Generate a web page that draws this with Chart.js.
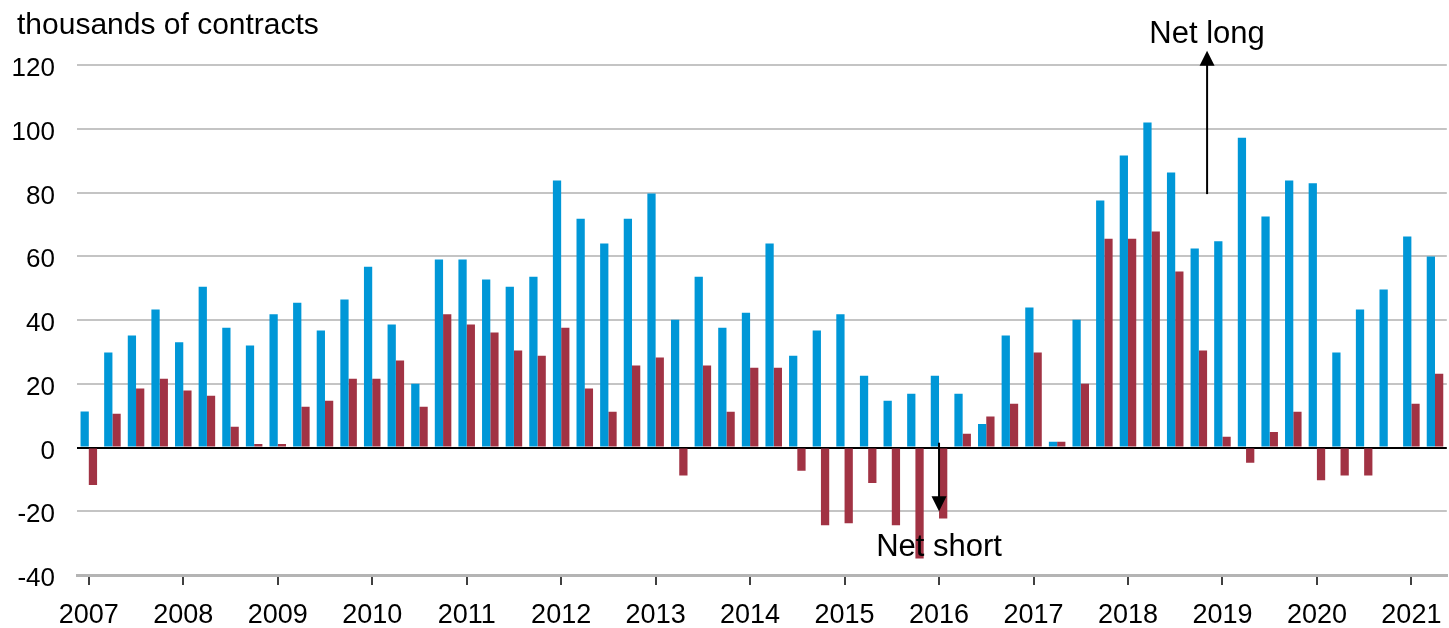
<!DOCTYPE html>
<html>
<head>
<meta charset="utf-8">
<script src="https://cdn.jsdelivr.net/npm/chart.js@4.4.1/dist/chart.umd.min.js"></script>
<style>
  body { margin: 0; background: #ffffff; }
  #wrap { position: relative; width: 1449px; height: 628px; }
</style>
</head>
<body>
<div id="wrap"><canvas id="positions-chart"></canvas></div>
<script>
// quarters 2007 Q1 - 2021 Q2
const quarterLabels = [];
for (let y = 2007; y <= 2021; y++) {
    for (let q = 1; q <= 4; q++) {
        if (y === 2021 && q > 2) break;
        quarterLabels.push(q === 1 ? String(y) : '');
    }
}

// thousands of contracts
const blueValues = [11.3, 29.8, 35.1, 43.3, 33.0, 50.4, 37.6, 32.0, 41.8, 45.4,
    36.7, 46.4, 56.7, 38.6, 20.0, 59.0, 59.0, 52.7, 50.4, 53.6,
    83.8, 71.8, 64.0, 71.8, 79.7, 40.1, 53.6, 37.6, 42.3, 64.0,
    28.8, 36.7, 41.8, 22.5, 14.7, 16.9, 22.5, 16.9, 7.4, 35.1,
    43.9, 1.8, 40.1, 77.5, 91.6, 102.0, 86.3, 62.4, 64.7, 97.2,
    72.5, 83.8, 82.9, 29.8, 43.3, 49.6, 66.2, 59.9];
const redValues = [-11.8, 10.6, 18.5, 21.6, 17.9, 16.2, 6.5, 1.1, 1.1, 12.8,
    14.7, 21.6, 21.6, 27.3, 12.8, 41.8, 38.6, 36.1, 30.4, 28.8,
    37.6, 18.5, 11.2, 25.7, 28.2, -8.8, 25.7, 11.2, 25.0, 25.0,
    -7.3, -24.4, -23.8, -11.1, -24.4, -34.8, -22.3, 4.3, 9.7, 13.7,
    29.8, 1.8, 20.0, 65.5, 65.5, 67.8, 55.2, 30.4, 3.4, -4.8,
    4.9, 11.2, -10.3, -8.8, -8.8, 0, 13.7, 23.1];

const yMin = -40;
const yMax = 120;
const yStep = 20;

// annotations: [label, x index, arrow from, arrow to, text baseline y]
const netLong = ['Net long', 47.35, 79.5, 124.5, 43];
const netShort = ['Net short', 36.0, 1.5, -20, 556];

const FONT = "'Liberation Sans', Arial, sans-serif";

const annotationPlugin = {
    id: 'annotations',
    afterDraw(chart) {
        const ctx = chart.ctx;
        const x = chart.scales.x;
        const y = chart.scales.y;
        ctx.save();

        // y axis unit label
        ctx.fillStyle = '#000000';
        ctx.font = '30px ' + FONT;
        ctx.textAlign = 'left';
        ctx.textBaseline = 'alphabetic';
        ctx.fillText('thousands of contracts', 17, 34);

        const arrows = [netLong, netShort];
        for (let i = 0; i < arrows.length; i++) {
            const a = arrows[i];
            const px = x.getPixelForValue(a[1]);
            const y0 = y.getPixelForValue(a[2]);
            const y1 = y.getPixelForValue(a[3]);
            const dir = y1 < y0 ? 1 : -1;
            ctx.strokeStyle = '#000000';
            ctx.lineWidth = 2;
            ctx.beginPath();
            ctx.moveTo(px, y0);
            ctx.lineTo(px, y1 + dir * 14);
            ctx.stroke();
            ctx.fillStyle = '#000000';
            ctx.beginPath();
            ctx.moveTo(px, y1);
            ctx.lineTo(px - 7.5, y1 + dir * 15);
            ctx.lineTo(px + 7.5, y1 + dir * 15);
            ctx.closePath();
            ctx.fill();

            ctx.font = '31px ' + FONT;
            ctx.textAlign = 'center';
            ctx.textBaseline = 'alphabetic';
            ctx.fillText(a[0], px, a[4]);
        }
        ctx.restore();
    }
};

const positionsData = {
    labels: quarterLabels,
    datasets: [
        {
            label: 'Series 1',
            data: blueValues,
            backgroundColor: '#0097D7',
        },
        {
            label: 'Series 2',
            data: redValues,
            backgroundColor: '#A13344',
        }
    ]
};

const positionsChart = new Chart(document.getElementById('positions-chart'), {
    type: 'bar',
    data: positionsData,
    plugins: [annotationPlugin],
    options: {
        responsive: true,
        maintainAspectRatio: false,
        animation: false,
        layout: {
            padding: {top: 65, right: 0, bottom: 0, left: 0}
        },
        datasets: {
            bar: {
                categoryPercentage: 0.7,
                barPercentage: 1.0
            }
        },
        plugins: {
            legend: {display: false},
            tooltip: {enabled: false}
        },
        scales: {
            x: {
                offset: true,
                grid: {
                    offset: false,
                    drawOnChartArea: false,
                    drawTicks: true,
                    tickLength: 10,
                    lineWidth: 2,
                    color: (c) => (c.index % 4 === 0 ? '#404040' : 'rgba(0,0,0,0)')
                },
                border: {display: true, color: '#B4B4B4', width: 3},
                ticks: {
                    autoSkip: false,
                    maxRotation: 0,
                    padding: 14,
                    color: '#000000',
                    font: {family: FONT, size: 27}
                },
                afterFit: (scale) => { scale.height = 53; }
            },
            y: {
                min: yMin,
                max: yMax,
                grid: {
                    drawTicks: false,
                    lineWidth: 2,
                    color: (c) => (c.tick && c.tick.value === 0 ? '#000000' : '#C4C4C4')
                },
                border: {display: false},
                ticks: {
                    stepSize: yStep,
                    padding: 22,
                    labelOffset: 4,
                    color: '#000000',
                    font: {family: FONT, size: 26}
                },
                afterFit: (scale) => { scale.width = 77; }
            }
        }
    }
});
</script>
</body>
</html>
